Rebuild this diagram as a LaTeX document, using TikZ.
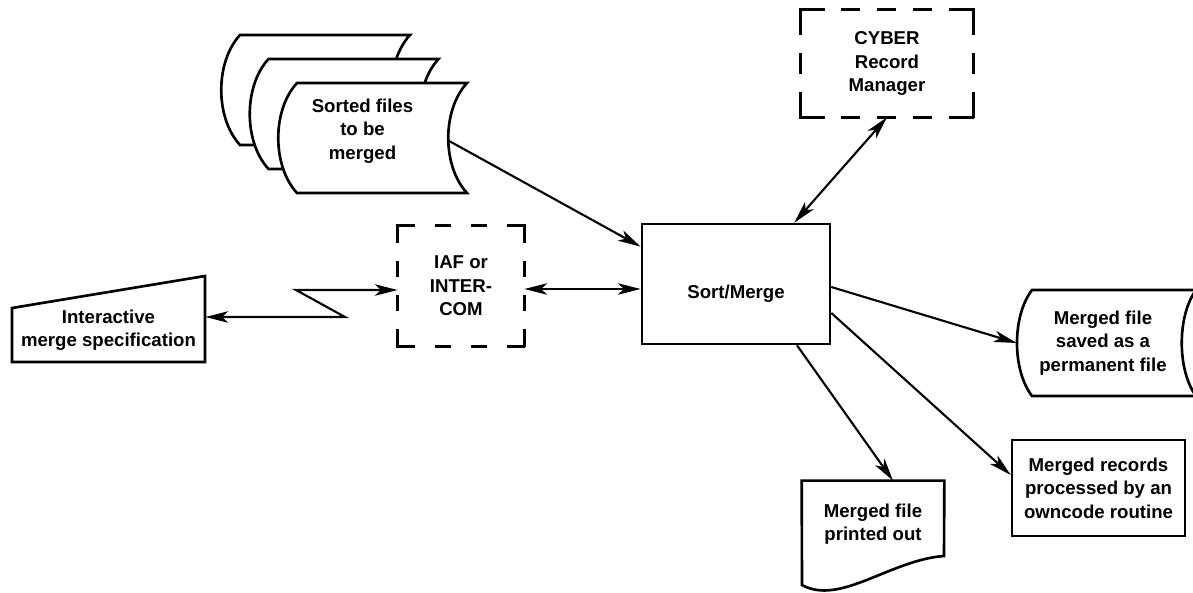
\documentclass[tikz,border=0pt]{standalone}
\usepackage{fontspec}
\setmainfont{Liberation Sans}
\usetikzlibrary{arrows.meta}
\newlength\pxu
\setlength\pxu{0.02cm}

\begin{document}
\begin{tikzpicture}[x=0.02cm, y=-0.02cm,
  every node/.style={font=\fontsize{10.6}{13.3}\selectfont\bfseries, align=center},
  box/.style={draw, line width=1.5pt},
  dashside/.style={line width=1.7pt, line cap=rect},
  iafh/.style={dashside, dash pattern=on 15.5\pxu off 23\pxu on 13\pxu off 23\pxu on 13\pxu off 23\pxu on 15.5\pxu off 50\pxu},
  iafv/.style={dashside, dash pattern=on 15.5\pxu off 21\pxu on 13\pxu off 21\pxu on 13\pxu off 21\pxu on 15.5\pxu off 50\pxu},
  cyberh/.style={dashside, dash pattern=on 22.5\pxu off 19.75\pxu on 16\pxu off 19.75\pxu on 16\pxu off 19.75\pxu on 16\pxu off 19.75\pxu on 22.5\pxu off 50\pxu},
  cyberv/.style={dashside, dash pattern=on 23.5\pxu off 21\pxu on 18\pxu off 21\pxu on 23.5\pxu off 50\pxu},
  link/.style={line width=1.2pt},
  >={Stealth[length=13pt, width=6.5pt, inset=3.5pt]}]
\useasboundingbox (0,0) rectangle (1193,592);

% Stack of input files
\foreach \x/\y in {240/35, 268.5/59, 297/83}
  \draw[box, fill=white] (\x,\y) -- ++(170,0)
    .. controls +(-25,27) and +(-25,-27) .. ++(0,110) -- ++(-170,0)
    .. controls +(-25,-27) and +(-25,27) .. ++(0,-110) -- cycle;
\node (files) [minimum width=3.38cm, minimum height=2.2cm] at (362.5,131) {Sorted files\\to be\\merged};

% Dashed boxes
\node (iaf) [minimum width=2.52cm, minimum height=2.4cm] at (461,286) {IAF or\\INTER-\\COM};
\node (cyber) [minimum width=3.44cm, minimum height=2.14cm] at (887,63.5) {CYBER\\Record\\Manager};
\foreach \n in {iaf, cyber} {
  \draw[\n h] (\n.north west) -- (\n.north east);
  \draw[\n h] (\n.south west) -- (\n.south east);
  \draw[\n v] (\n.north west) -- (\n.south west);
  \draw[\n v] (\n.north east) -- (\n.south east);
}

% Main box
\node (sort) [box, minimum width=3.76cm, minimum height=2.4cm, text height=18.4pt] at (736,284) {Sort/Merge};

% Terminal input
\draw[box] (12,308) -- (205,276) -- (205,362) -- (12,362) -- cycle;
\node (spec) [minimum width=3.86cm] at (108.5,330) {Interactive\\merge specification};

% Outputs
\draw[box] (1193,290) -- (1032,290) .. controls (1012,316) and (1012,370) .. (1032,396) -- (1193,396);
\draw[box] (1196,290) .. controls (1177,316) and (1177,370) .. (1196,396);
\node (saved) [minimum width=3.44cm] at (1103,343) {Merged file\\saved as a\\permanent file};

\node (own) [box, minimum width=3.46cm, minimum height=1.92cm] at (1098.5,488) {Merged records\\processed by an\\owncode routine};

\node (print) [minimum width=2.84cm, minimum height=1.72cm] at (873,524) {Merged file\\printed out};
\draw[box] (print.north west) -- (print.north east) -- (944,556)
  .. controls (890,560) and (840,606) .. (802,585) -- cycle;

% Connections
\coordinate (zz1) at (345,317);
\coordinate (zz2) at (296,290);
\draw[link, <->] (spec.east |- zz1) -- (zz1) -- (zz2) -- (iaf.west |- zz2);
\draw[link, <->] ([yshift=-0.06cm]iaf.east) -- ([yshift=-0.06cm]sort.west |- iaf.east);
\draw[link, ->] ([yshift=-0.18cm]files.east) -- ([yshift=-0.48cm]sort.north west);
\draw[link, <->] (cyber.south) -- ([xshift=-0.74cm]sort.north east);
\draw[link, ->] ([yshift=-0.06cm]sort.east) -- (saved.west);
\draw[link, ->] ([yshift=-0.58cm]sort.east) -- ([yshift=0.26cm]own.west);
\draw[link, ->] ([xshift=1.22cm]sort.south) -- ([xshift=0.4cm]print.north);

\end{tikzpicture}
\end{document}
